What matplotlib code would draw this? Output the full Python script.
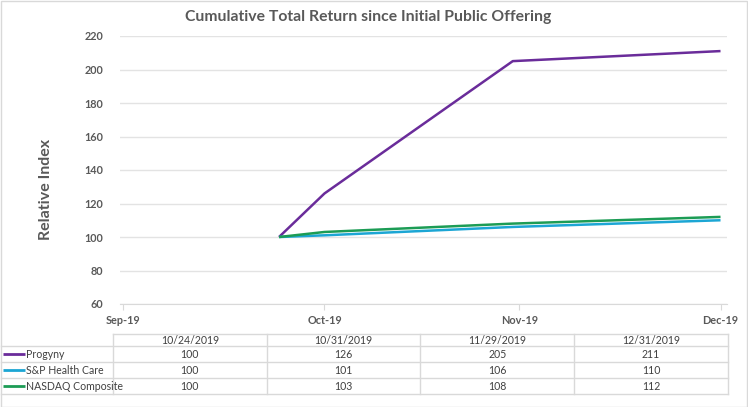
import numpy as np
import pandas as pd
import matplotlib
matplotlib.use("Agg")
import matplotlib.pyplot as plt
import matplotlib.dates as mdates
from matplotlib.patches import Rectangle

plt.rcParams['font.family'] = ['Lato', 'DejaVu Sans']

# data
dates = ['2019-10-24', '2019-10-31', '2019-11-29', '2019-12-31']
date_labels = ['10/24/2019', '10/31/2019', '11/29/2019', '12/31/2019']
series_names = ['Progyny', 'S&P Health Care', 'NASDAQ Composite']
progyny = [100, 126, 205, 211]
sp_health = [100, 101, 106, 110]
nasdaq = [100, 103, 108, 112]
colors = ['#6A2C9A', '#1CA6D4', '#1C9C55']
month_ticks = ['2019-09-30', '2019-10-31', '2019-11-30', '2019-12-31']

W, H = 748, 407
fig = plt.figure(figsize=(W / 100, H / 100), dpi=100)
grey = '#595959'

# main chart area (pixel based placement)
left, right, top, bottom = 120, 727, 36, 304
ax = fig.add_axes([left / W, 1 - bottom / H, (right - left) / W, (bottom - top) / H])

x = pd.to_datetime(dates)
all_series = [progyny, sp_health, nasdaq]
for i in range(3):
    ax.plot(x, all_series[i], color=colors[i], lw=1.8, solid_capstyle='butt', zorder=3)

ax.set_ylim(60, 220)
ax.set_yticks(np.arange(60, 221, 20))
ax.set_xlim(pd.Timestamp('2019-09-29 12:00'), pd.Timestamp('2020-01-01'))
ax.set_xticks(pd.to_datetime(month_ticks))
ax.xaxis.set_major_formatter(mdates.DateFormatter('%b-%y'))

ax.grid(axis='y', color='#E3E3E3', lw=1)
ax.set_axisbelow(True)
for s in ['top', 'right', 'left']:
    ax.spines[s].set_visible(False)
ax.spines['bottom'].set_color('#D9D9D9')
ax.tick_params(axis='y', length=0, pad=12, labelsize=7.8, labelcolor=grey)
ax.tick_params(axis='x', length=4, color='#D9D9D9', pad=4, labelsize=7.8, labelcolor=grey)
for lbl in ax.get_xticklabels() + ax.get_yticklabels():
    lbl.set_fontweight('bold')

fig.text(368 / W, 1 - 17 / H, 'Cumulative Total Return since Initial Public Offering',
         ha='center', va='center', fontsize=11.3, fontweight='bold', color=grey)
fig.text(46 / W, 1 - 189 / H, 'Relative Index', rotation=90, ha='center', va='center',
         fontsize=11.5, fontweight='bold', color=grey)

# data table under the chart, in pixel coordinates
tab = fig.add_axes([0, 0, 1, 1], facecolor='none')
tab.set_xlim(0, W)
tab.set_ylim(H, 0)
tab.axis('off')

line_c = '#D9D9D9'
col_x = np.linspace(113, 728, len(dates) + 1)
row_y = [334, 346, 362, 378, 394]

# horizontal lines
tab.plot([col_x[0], col_x[-1]], [row_y[0], row_y[0]], color=line_c, lw=1)
for yy in row_y[1:]:
    tab.plot([1, col_x[-1]], [yy, yy], color=line_c, lw=1)
# vertical lines
for xx in col_x:
    tab.plot([xx, xx], [row_y[0], row_y[-1]], color=line_c, lw=1)

for j, lab in enumerate(date_labels):
    tab.text((col_x[j] + col_x[j + 1]) / 2, (row_y[0] + row_y[1]) / 2, lab,
             ha='center', va='center', fontsize=7.6, color='#404040')

for i, name in enumerate(series_names):
    yc = (row_y[i + 1] + row_y[i + 2]) / 2
    tab.plot([3, 25], [yc, yc], color=colors[i], lw=2, solid_capstyle='butt')
    tab.text(26, yc, name, ha='left', va='center', fontsize=7.6, color='#404040')
    for j, v in enumerate(all_series[i]):
        tab.text((col_x[j] + col_x[j + 1]) / 2, yc, str(v),
                 ha='center', va='center', fontsize=7.6, color='#404040')

# chart border
fig.add_artist(Rectangle((0.5 / W, 0.5 / H), (W - 1.5) / W, (H - 1.5) / H,
                         transform=fig.transFigure, fill=False, ec='#D9D9D9', lw=1))

fig.savefig('out.png', dpi=100)
